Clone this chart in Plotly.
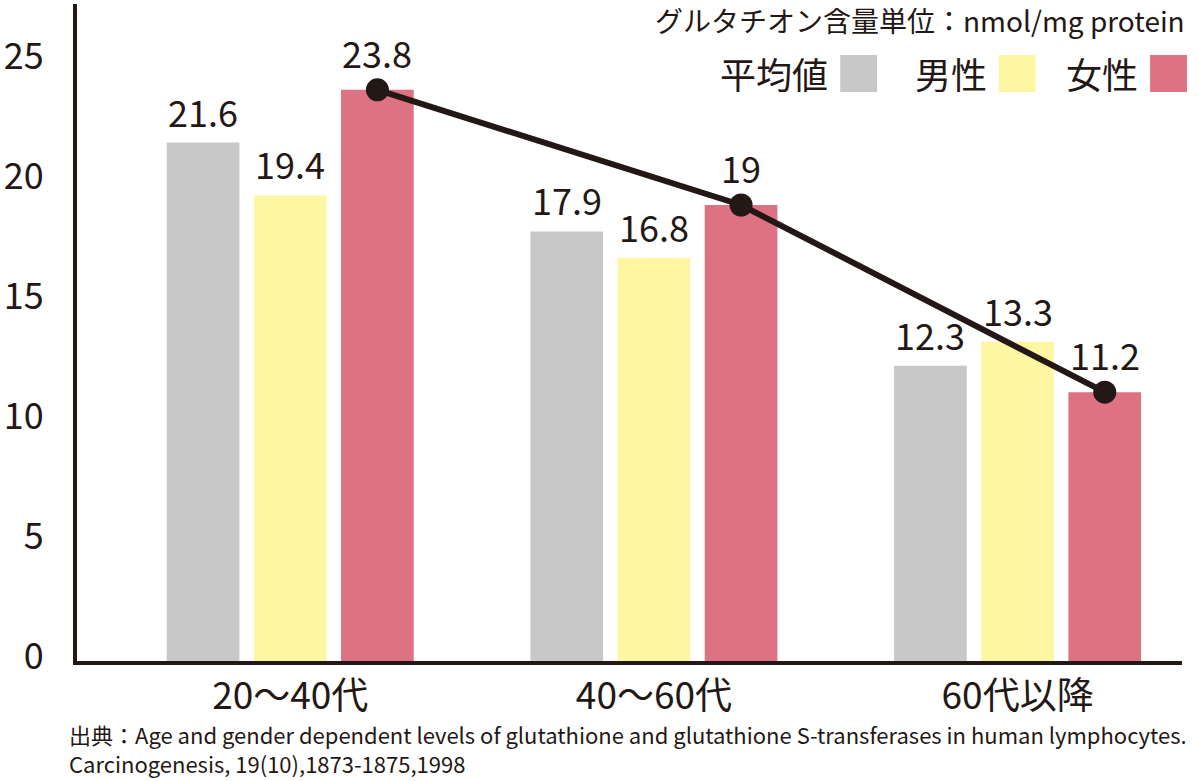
import plotly.graph_objects as go

categories = ["20〜40代", "40〜60代", "60代以降"]
series_names = ["平均値", "男性", "女性"]
avg_values = [21.6, 17.9, 12.3]
male_values = [19.4, 16.8, 13.3]
female_values = [23.8, 19.0, 11.2]
value_labels = [["21.6", "17.9", "12.3"], ["19.4", "16.8", "13.3"], ["23.8", "19", "11.2"]]
y_ticks = [0, 5, 10, 15, 20, 25]
colors = ["#c8c8c8", "#fdf7a4", "#dc7282"]
ink = "#231815"
font_family = "Noto Sans CJK JP"

W, H = 1199, 781
L, R, T, B = 73, 17, 4, 120
PW, PH = W - L - R, H - T - B

def px(x):
    return (x - L) / PW

def py(y):
    return (H - B - y) / PH

bargap = 0.281
bargroupgap = 0.166
slot = (1 - bargap) / 3
xs = list(range(len(categories)))

series = [avg_values, male_values, female_values]
fig = go.Figure()
for name, vals, col in zip(series_names, series, colors):
    fig.add_trace(go.Bar(x=xs, y=vals, name=name, marker=dict(color=col, line=dict(width=0)),
                         showlegend=False, hoverinfo="skip"))

line_x = [x + slot for x in xs]
fig.add_trace(go.Scatter(x=line_x, y=female_values, mode="lines+markers",
                         line=dict(color=ink, width=6),
                         marker=dict(color=ink, size=23),
                         showlegend=False, hoverinfo="skip"))

annotations = []
for k, (vals, labels) in enumerate(zip(series, value_labels)):
    for i, (v, lab) in enumerate(zip(vals, labels)):
        annotations.append(dict(x=i + (k - 1) * slot, y=v, xref="x", yref="y", text=lab,
                                showarrow=False, yanchor="bottom",
                                yshift=10 if k == 2 else 4,
                                font=dict(size=36, color=ink, family=font_family)))

# unit note
annotations.append(dict(x=px(1187), y=py(20), xref="paper", yref="paper",
                        text="グルタチオン含量単位：nmol/mg protein", showarrow=False,
                        xanchor="right", yanchor="middle",
                        font=dict(size=28, color=ink, family=font_family)))

# legend (text then box)
box_right = [876, 1035, 1187]
box_size = 37
box_top = 55
shapes = []
for name, col, br in zip(series_names, colors, box_right):
    shapes.append(dict(type="rect", xref="paper", yref="paper",
                       x0=px(br - box_size), x1=px(br), y0=py(box_top + box_size), y1=py(box_top),
                       fillcolor=col, line=dict(width=0)))
    annotations.append(dict(x=px(br - box_size - 10), y=py(box_top + box_size / 2),
                            xref="paper", yref="paper", text=name, showarrow=False,
                            xanchor="right", yanchor="middle",
                            font=dict(size=36, color=ink, family=font_family)))

# source
source_text = ("出典：Age and gender dependent levels of glutathione and glutathione S-transferases in human lymphocytes."
               "<br>Carcinogenesis, 19(10),1873-1875,1998")
annotations.append(dict(x=px(64), y=py(780), xref="paper", yref="paper",
                        text=source_text, showarrow=False, xanchor="left", yanchor="bottom",
                        align="left", borderpad=0,
                        font=dict(size=22, color=ink, family=font_family)))

fig.update_layout(
    width=W, height=H,
    margin=dict(l=L, r=R, t=T, b=B, pad=0),
    paper_bgcolor="white", plot_bgcolor="white",
    barmode="group", bargap=bargap, bargroupgap=bargroupgap,
    annotations=annotations, shapes=shapes,
    font=dict(family=font_family, color=ink),
    xaxis=dict(range=[-214 / 365, 2 + 165 / 365], tickmode="array", tickvals=xs, ticktext=categories,
               showline=True, linecolor=ink, linewidth=4, showgrid=False, zeroline=False,
               ticks="", tickfont=dict(size=37, color=ink, family=font_family),
               ticklabelstandoff=0, fixedrange=True),
    yaxis=dict(range=[0, PH / 24], tickmode="array", tickvals=y_ticks,
               showline=True, linecolor=ink, linewidth=4, showgrid=False, zeroline=False,
               ticks="", tickfont=dict(size=36, color=ink, family=font_family),
               ticklabelstandoff=22, ticklabelshift=-5, fixedrange=True),
)

fig.write_html("out.html")
